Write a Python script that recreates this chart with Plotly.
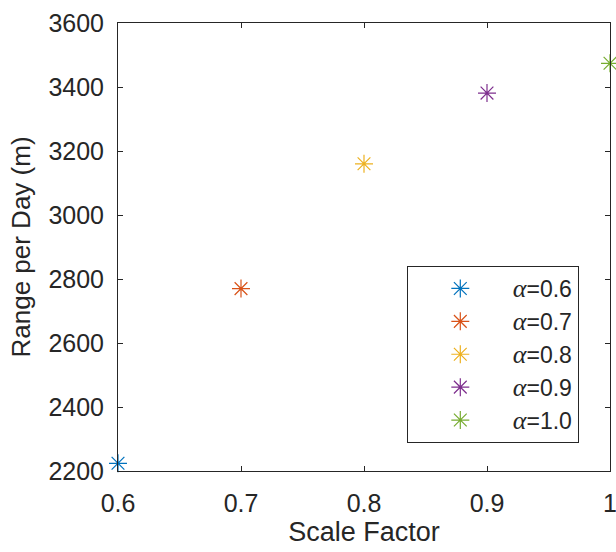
import plotly.graph_objects as go

# Range per day for each scale factor (one point per alpha)
scale_factor = [0.6, 0.7, 0.8, 0.9, 1.0]
range_per_day = [2224, 2770, 3160, 3381, 3474]
alpha_labels = ["0.6", "0.7", "0.8", "0.9", "1.0"]
colors = ["#0072BD", "#D95319", "#EDB120", "#7E2F8E", "#77AC30"]

x_ticks = [0.6, 0.7, 0.8, 0.9, 1.0]
x_tick_text = ["0.6", "0.7", "0.8", "0.9", "1"]
y_ticks = [2200, 2400, 2600, 2800, 3000, 3200, 3400, 3600]

AXIS_COLOR = "#262626"
FONT = "Liberation Sans, Arial, sans-serif"
ALPHA = "<span style='font-family:Liberation Serif;font-size:26px'><i>α</i></span>"

fig = go.Figure()
for x, y, a, c in zip(scale_factor, range_per_day, alpha_labels, colors):
    fig.add_trace(go.Scatter(
        x=[x], y=[y], mode="markers",
        name=ALPHA + "=" + a,
        marker=dict(symbol="asterisk-open", size=15, color=c,
                    line=dict(color=c, width=1.2)),
        cliponaxis=False,
    ))

axis_common = dict(
    showline=True, linecolor=AXIS_COLOR, linewidth=1, mirror="ticks",
    ticks="inside", ticklen=5, tickcolor=AXIS_COLOR, tickwidth=1,
    showgrid=False, zeroline=False, ticklabeloverflow="allow",
    automargin=False,
    tickfont=dict(family=FONT, size=25, color=AXIS_COLOR),
)

fig.update_layout(
    width=616, height=552,
    margin=dict(l=118, r=6, t=23, b=81, autoexpand=False),
    paper_bgcolor="white", plot_bgcolor="white",
    font=dict(family=FONT, color=AXIS_COLOR),
    xaxis=dict(range=[0.6, 1.0], tickvals=x_ticks, ticktext=x_tick_text,
               ticklabelstandoff=10,
               title=dict(text="Scale Factor", font=dict(family=FONT, size=27, color=AXIS_COLOR),
                          standoff=6),
               **axis_common),
    yaxis=dict(range=[2200, 3600], tickvals=y_ticks,
               ticklabelstandoff=8,
               title=dict(text="Range per Day (m)", font=dict(family=FONT, size=26, color=AXIS_COLOR),
                          standoff=10),
               **axis_common),
    legend=dict(
        x=0.587, y=0.4576, xanchor="left", yanchor="top",
        bordercolor=AXIS_COLOR, borderwidth=1, bgcolor="white",
        font=dict(family=FONT, size=23, color=AXIS_COLOR),
        itemwidth=95,
    ),
    showlegend=True,
)

fig.write_html("out.html")
